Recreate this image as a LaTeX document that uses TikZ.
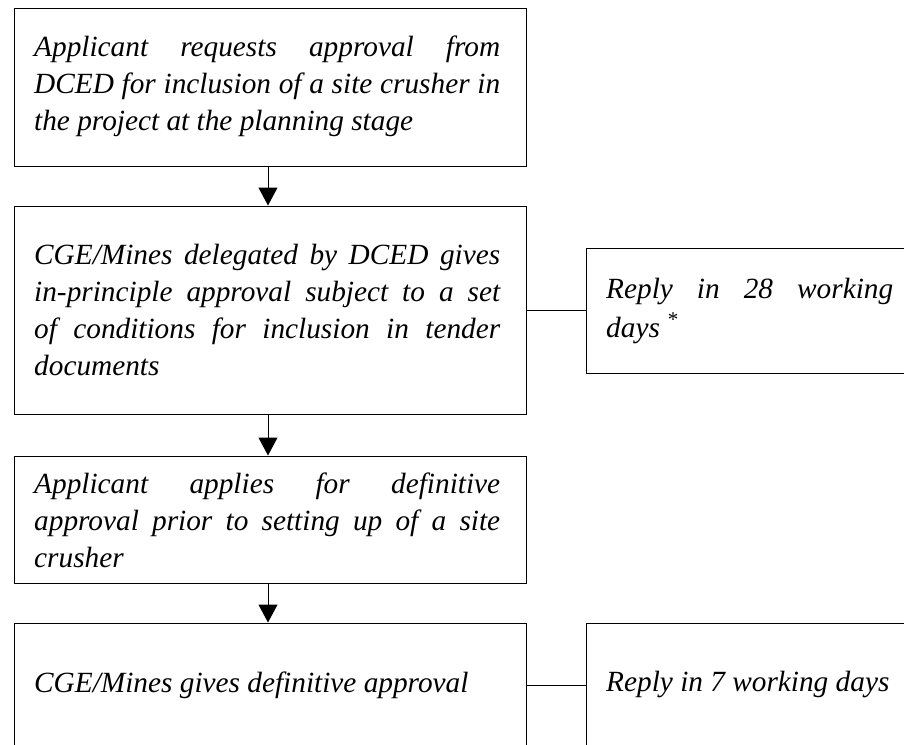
\documentclass[tikz,border=0pt]{standalone}
\usepackage{fontspec}
\setmainfont{Liberation Serif}
\usetikzlibrary{arrows.meta}
\newcommand\jline[1]{\makebox[\linewidth][s]{#1}\\}
\begin{document}
\begin{tikzpicture}[x=1pt,y=-1pt,
  box/.style={draw=black, line width=1pt, rectangle, inner sep=0pt},
  txt/.style={anchor=base west, inner sep=0pt, font=\fontsize{29.3pt}{37.3pt}\selectfont\itshape},
  flow/.style={draw=black, line width=1pt, -{Triangle[width=19pt,length=18pt]}},
  link/.style={draw=black, line width=1pt}]
\useasboundingbox (0,0) rectangle (904,744);
\clip (0,0) rectangle (904,744);
\fill[white] (0,0) rectangle (904,744);
% main boxes
\node[box, minimum width=512pt, minimum height=158pt] (b1) at (270,87) {};
\node[box, minimum width=512pt, minimum height=208pt] (b2) at (270,310) {};
\node[box, minimum width=512pt, minimum height=127pt] (b3) at (270,519.5) {};
\node[box, minimum width=512pt, minimum height=124pt] (b4) at (270,685) {};
% side boxes
\node[box, minimum width=328pt, minimum height=125pt] (s1) at (750,310.5) {};
\node[box, minimum width=328pt, minimum height=124pt] (s2) at (750,685) {};
% texts
\node[txt] (t1) at (34,56) {\parbox[t]{466pt}{%
  \jline{Applicant requests approval from}%
  \jline{DCED for inclusion of a site crusher in}%
  the project at the planning stage}};
\node[txt] (t2) at (34,264) {\parbox[t]{466pt}{%
  \jline{CGE/Mines delegated by DCED gives}%
  \jline{in-principle approval subject to a set}%
  \jline{of conditions for inclusion in tender}%
  documents}};
\node[txt] (t3) at (34,493) {\parbox[t]{466pt}{%
  \jline{Applicant applies for definitive}%
  \jline{approval prior to setting up of a site}%
  crusher}};
\node[txt] (t4) at (34,692) {CGE/Mines gives definitive approval};
\node[txt] (t5) at (606,298) {\parbox[t]{287pt}{%
  \makebox[\linewidth][s]{Reply in 28 working}\\[1.7pt]%
  days\hspace{7pt}\raisebox{11pt}{\fontsize{21pt}{21pt}\selectfont *}}};
\node[txt] (t6) at (606,691) {Reply in 7 working days};
% arrows
\draw[flow] ([xshift=-2pt]b1.south) -- ([xshift=-2pt]b2.north);
\draw[flow] ([xshift=-2pt]b2.south) -- ([xshift=-2pt]b3.north);
\draw[flow] ([xshift=-2pt]b3.south) -- ([xshift=-2pt]b4.north);
% side links
\draw[link] (b2.east) -- (b2.east -| s1.west);
\draw[link] (b4.east) -- (s2.west);
\end{tikzpicture}
\end{document}
